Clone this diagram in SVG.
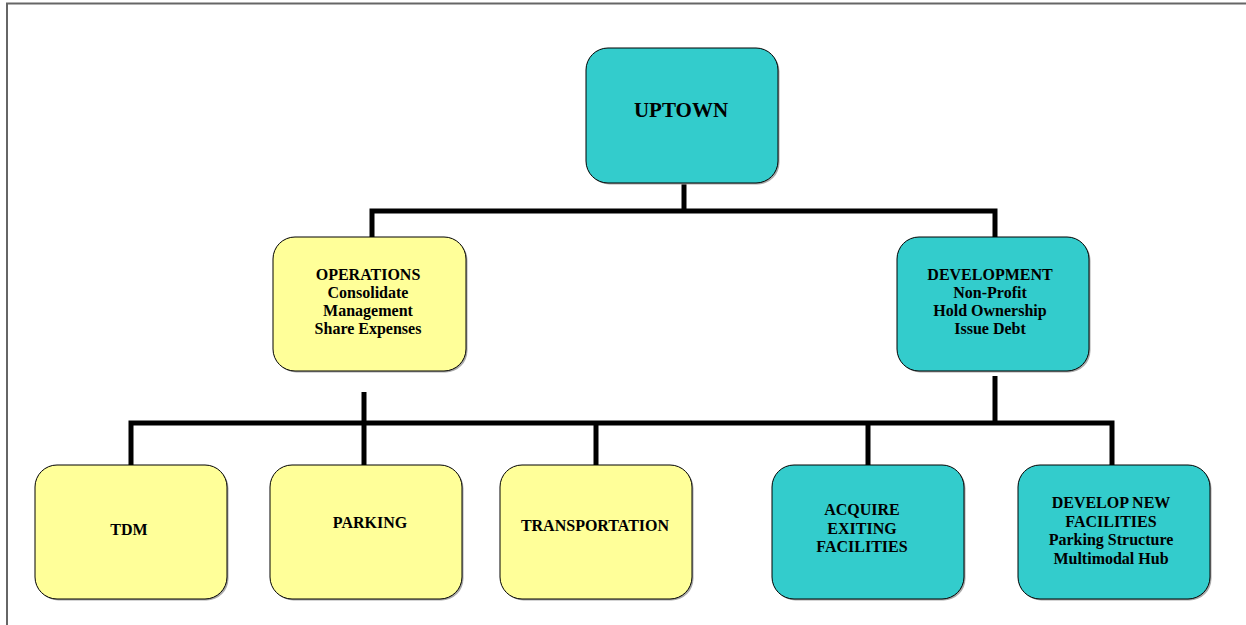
<svg xmlns="http://www.w3.org/2000/svg" width="1246" height="625" viewBox="0 0 1246 625">
<style>
.box{stroke:#000;stroke-width:1}
.teal{fill:#33CCCC}
.yel{fill:#FFFF99}
.sh{fill:#aaa}
.conn{stroke:#000;stroke-width:5;fill:none;stroke-linecap:butt}
text{font-family:"Liberation Serif","Times New Roman",serif;font-weight:bold;font-size:16px;fill:#000;text-anchor:middle}
.big{font-size:21px}
</style>
<rect width="1246" height="625" fill="#fff"/>
<path d="M7,625 V3.5 H1246" fill="none" stroke="#666" stroke-width="2"/>
<g id="connectors">
<path class="conn" d="M684,183 V211"/>
<path class="conn" d="M372,238 V211 H995 V238"/>
<path class="conn" d="M364,392 V466"/>
<path class="conn" d="M995,376 V423"/>
<path class="conn" d="M131,466 V423 H1112 V466"/>
<path class="conn" d="M596,423 V466"/>
<path class="conn" d="M868,423 V466"/>
</g>
<g id="uptown">
<rect class="sh" x="587.5" y="49.5" width="192" height="135" rx="22"/>
<rect class="box teal" x="586" y="48" width="192" height="135" rx="22"/>
<text class="big" x="681" y="117">UPTOWN</text>
</g>
<g id="operations">
<rect class="sh" x="274.5" y="238.5" width="193" height="134" rx="22"/>
<rect class="box yel" x="273" y="237" width="193" height="134" rx="22"/>
<text x="368" y="280">OPERATIONS</text>
<text x="368" y="298">Consolidate</text>
<text x="368" y="316">Management</text>
<text x="368" y="334">Share Expenses</text>
</g>
<g id="development">
<rect class="sh" x="898.5" y="238.5" width="192" height="134" rx="22"/>
<rect class="box teal" x="897" y="237" width="192" height="134" rx="22"/>
<text x="990" y="280">DEVELOPMENT</text>
<text x="990" y="298">Non-Profit</text>
<text x="990" y="316">Hold Ownership</text>
<text x="990" y="334">Issue Debt</text>
</g>
<g id="tdm">
<rect class="sh" x="36.5" y="466.5" width="192" height="134" rx="22"/>
<rect class="box yel" x="35" y="465" width="192" height="134" rx="22"/>
<text x="129" y="535">TDM</text>
</g>
<g id="parking">
<rect class="sh" x="271.5" y="466.5" width="192" height="134" rx="22"/>
<rect class="box yel" x="270" y="465" width="192" height="134" rx="22"/>
<text x="370" y="528">PARKING</text>
</g>
<g id="transportation">
<rect class="sh" x="501.5" y="466.5" width="192" height="134" rx="22"/>
<rect class="box yel" x="500" y="465" width="192" height="134" rx="22"/>
<text x="595" y="531">TRANSPORTATION</text>
</g>
<g id="acquire">
<rect class="sh" x="773.5" y="466.5" width="192" height="134" rx="22"/>
<rect class="box teal" x="772" y="465" width="192" height="134" rx="22"/>
<text x="862" y="515">ACQUIRE</text>
<text x="862" y="533.5">EXITING</text>
<text x="862" y="552">FACILITIES</text>
</g>
<g id="develop-new">
<rect class="sh" x="1019.5" y="466.5" width="192" height="134" rx="22"/>
<rect class="box teal" x="1018" y="465" width="192" height="134" rx="22"/>
<text x="1111" y="508">DEVELOP NEW</text>
<text x="1111" y="526.5">FACILITIES</text>
<text x="1111" y="545">Parking Structure</text>
<text x="1111" y="563.5">Multimodal Hub</text>
</g>
</svg>
